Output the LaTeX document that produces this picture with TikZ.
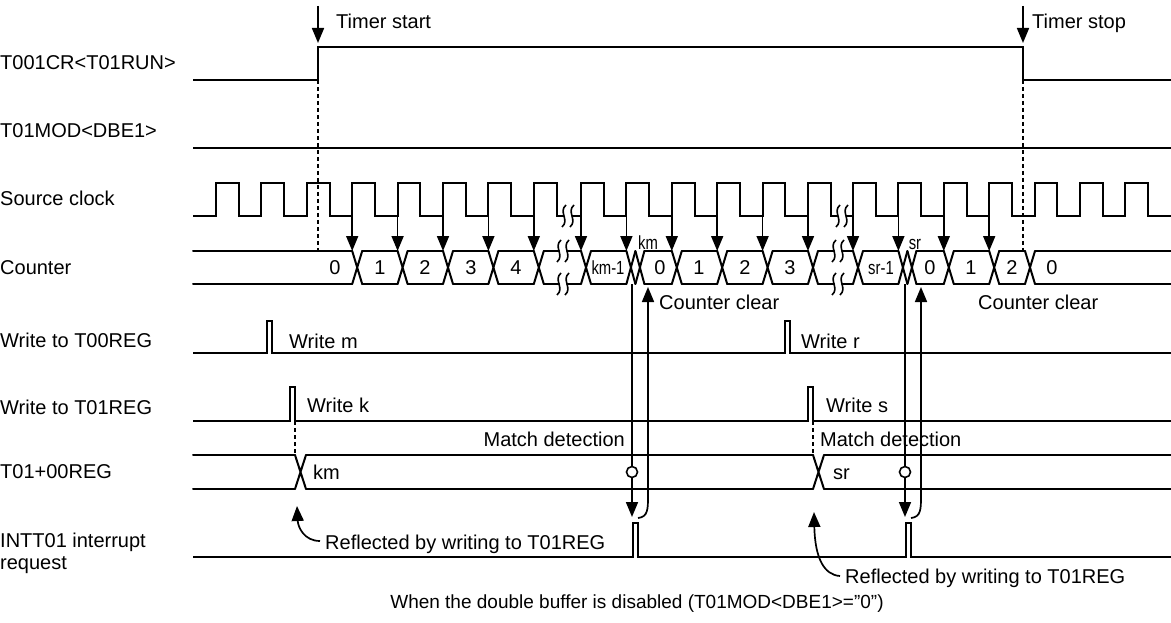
\documentclass[tikz,border=0pt]{standalone}
\usepackage{fontspec}
\setmainfont{Liberation Sans}
\usetikzlibrary{arrows.meta, positioning}

% wavy break mark centred at (#1,#2)
\newcommand{\brkmark}[2]{%
  \draw[brk] (#1+2,#2-11) .. controls (#1-6,#2-4) and (#1+6,#2+4) .. (#1-2,#2+11);}

\begin{document}
\begin{tikzpicture}[x=1pt, y=-1pt,
    every node/.style={font=\fontsize{20}{24}\selectfont, inner sep=0pt,
      text height=14pt, text depth=0pt},
    sig/.style={line width=2pt},
    bus/.style={line width=2pt, line cap=round},
    lbl/.style={anchor=west},
    clkarrow/.style={line width=1.7pt, -{Triangle[length=15pt, width=12pt]}},
    guide/.style={line width=1.5pt, dash pattern=on 4pt off 3pt},
    brk/.style={line width=1.6pt},
    cond/.style={font=\fontsize{19}{22}\selectfont, xscale=.78},
  ]
  \useasboundingbox (0,0) rectangle (1171,623);

  % signal names
  \node[lbl] (n-run) at (0,63)  {T001CR<T01RUN>};
  \node[lbl] (n-dbe) at (0,131) {T01MOD<DBE1>};
  \node[lbl] (n-clk) at (0,199) {Source clock};
  \node[lbl] (n-cnt) at (0,267) {Counter};
  \node[lbl] (n-t00) at (0,340) {Write to T00REG};
  \node[lbl] (n-t01) at (0,407) {Write to T01REG};
  \node[lbl] (n-cmp) at (0,471) {T01+00REG};
  \node[lbl] (n-int) at (0,540) {INTT01 interrupt};
  \node[lbl] (n-req) at (0,562) {request};

  % run bit
  \coordinate (start) at (318,80);
  \coordinate (stop) at (1023,80);
  \draw[sig] (193,80) -- (start) -- (318,47) -- (1023,47) -- (stop) -- (1171,80);
  \draw[clkarrow] (318,6) -- (318,43);
  \draw[clkarrow] (1023,6) -- (1023,43);
  \node[lbl] (t-start) at (336,22) {Timer start};
  \node[lbl] (t-stop) at (1032,22) {Timer stop};

  % double buffer bit
  \draw[sig] (193,148) -- (1171,148);

  % source clock
  \draw[sig] (193,216)
    \foreach \ed in {216,261.4,...,534} {-- (\ed,216) -- (\ed,183) -- (\ed+22.7,183) -- (\ed+22.7,216)}
    -- (564,216);
  \draw[sig] (572,216)
    \foreach \ed in {581,626.4,...,809} {-- (\ed,216) -- (\ed,183) -- (\ed+22.7,183) -- (\ed+22.7,216)}
    -- (838,216);
  \draw[sig] (846,216)
    \foreach \ed in {853,898.4,...,1126} {-- (\ed,216) -- (\ed,183) -- (\ed+22.7,183) -- (\ed+22.7,216)}
    -- (1171,216);
  \foreach \x in {564,572,838,846}
    {\brkmark{\x}{216}}

  % counter bus
  \foreach \a/\b in {193/352.2, 362.2/397.6, 407.6/443, 453/488.4, 498.4/533.8,
      543.8/559, 567/581, 591/626.4, 644.4/671.8, 681.8/717.2, 727.2/762.6,
      772.6/808, 818/834, 842/853, 863/898.4, 916.4/943.8, 953.8/989.2,
      999.2/1025, 1035/1171}
    \draw[bus] (\a,251) -- (\b,251) (\a,284) -- (\b,284);
  \foreach \x/\w in {352.2/10, 397.6/10, 443/10, 488.4/10, 533.8/10, 581/10,
      626.4/9, 635.4/9, 671.8/10, 717.2/10, 762.6/10, 808/10, 853/10,
      898.4/9, 907.4/9, 943.8/10, 989.2/10, 1025/10}
    \draw[bus] (\x,251) -- (\x+\w,284) (\x,284) -- (\x+\w,251);
  \foreach \x in {559,567,834,842}
    {\brkmark{\x}{251} \brkmark{\x}{284}}
  \foreach \x/\v in {335/0, 380/1, 425/2, 471/3, 516/4, 660/0, 699/1, 745/2,
      790/3, 930/0, 971/1, 1012/2, 1052/0}
    \node (v-\x) at (\x,267) {\v};
  \node[cond] (v-km1) at (608,267) {km-1};
  \node[cond] (v-sr1) at (881,267) {sr-1};
  \node[cond] (v-km) at (648,242) {km};
  \node[cond] (v-sr) at (915,242) {sr};

  % clock edges counted
  \foreach \ed in {352.2,397.6,443,488.4,533.8,581,626.4,671.8,717.2,762.6,808,
      853,898.4,943.8,989.2}
    \draw[clkarrow] (\ed,216) -- (\ed,251);
  \draw[guide] (start) -- (318,251);
  \draw[guide] (stop) -- (1023,251);

  % register writes
  \draw[sig] (193,353) -- (267,353) -- (267,321) -- (272,321) -- (272,353)
    -- (785,353) -- (785,321) -- (790,321) -- (790,353) -- (1171,353);
  \node[lbl] (w-m) at (289,341) {Write m};
  \node[lbl] (w-r) at (801,341) {Write r};
  \draw[sig] (193,421) -- (290,421) -- (290,387) -- (295,387) -- (295,421)
    -- (808,421) -- (808,387) -- (813,387) -- (813,421) -- (1171,421);
  \node[lbl] (w-k) at (307,405) {Write k};
  \node[lbl] (w-s) at (826,405) {Write s};

  % compare register
  \foreach \a/\b in {193/295, 306/813, 824/1171}
    \draw[bus] (\a,455) -- (\b,455) (\a,489) -- (\b,489);
  \foreach \x in {295,813}
    \draw[bus] (\x,455) -- (\x+11,489) (\x,489) -- (\x+11,455);
  \draw[guide] (295,421) -- (295,455);
  \draw[guide] (813,421) -- (813,455);
  \node[lbl] (c-km) at (313,472) {km};
  \node[lbl] (c-sr) at (833,472) {sr};
  \node[anchor=east] (md-1) at (625,439) {Match detection};
  \node[lbl] (md-2) at (820,439) {Match detection};

  % interrupt request
  \draw[sig] (193,557) -- (633,557) -- (633,523) -- (638,523) -- (638,557)
    -- (906,557) -- (906,523) -- (911,523) -- (911,557) -- (1171,557);

  % match -> interrupt -> counter clear
  \foreach \m/\c in {632/648, 905/921} {
    \draw[clkarrow] (\m,284) -- (\m,517);
    \draw[line width=1.6pt, fill=white] (\m,472) circle (5.5pt);
    \draw[clkarrow] (\m+6,518) .. controls (\c,517) and (\c,509) .. (\c,496) -- (\c,287);
  }
  \node[lbl] (cc-1) at (659,302) {Counter clear};
  \node[lbl] (cc-2) at (978,302) {Counter clear};

  % reflection notes
  \node[lbl] (rf-1) at (325,542) {Reflected by writing to T01REG};
  \node[lbl] (rf-2) at (845,576) {Reflected by writing to T01REG};
  \draw[clkarrow] (320,541) .. controls (304,541) and (298,527) .. (297,506);
  \draw[clkarrow] (840,576) .. controls (824,575) and (815,558) .. (814,512);

  \node[font=\fontsize{19}{22}\selectfont] (cap) at (637,601)
    {When the double buffer is disabled (T01MOD<DBE1>=”0”)};
\end{tikzpicture}
\end{document}
